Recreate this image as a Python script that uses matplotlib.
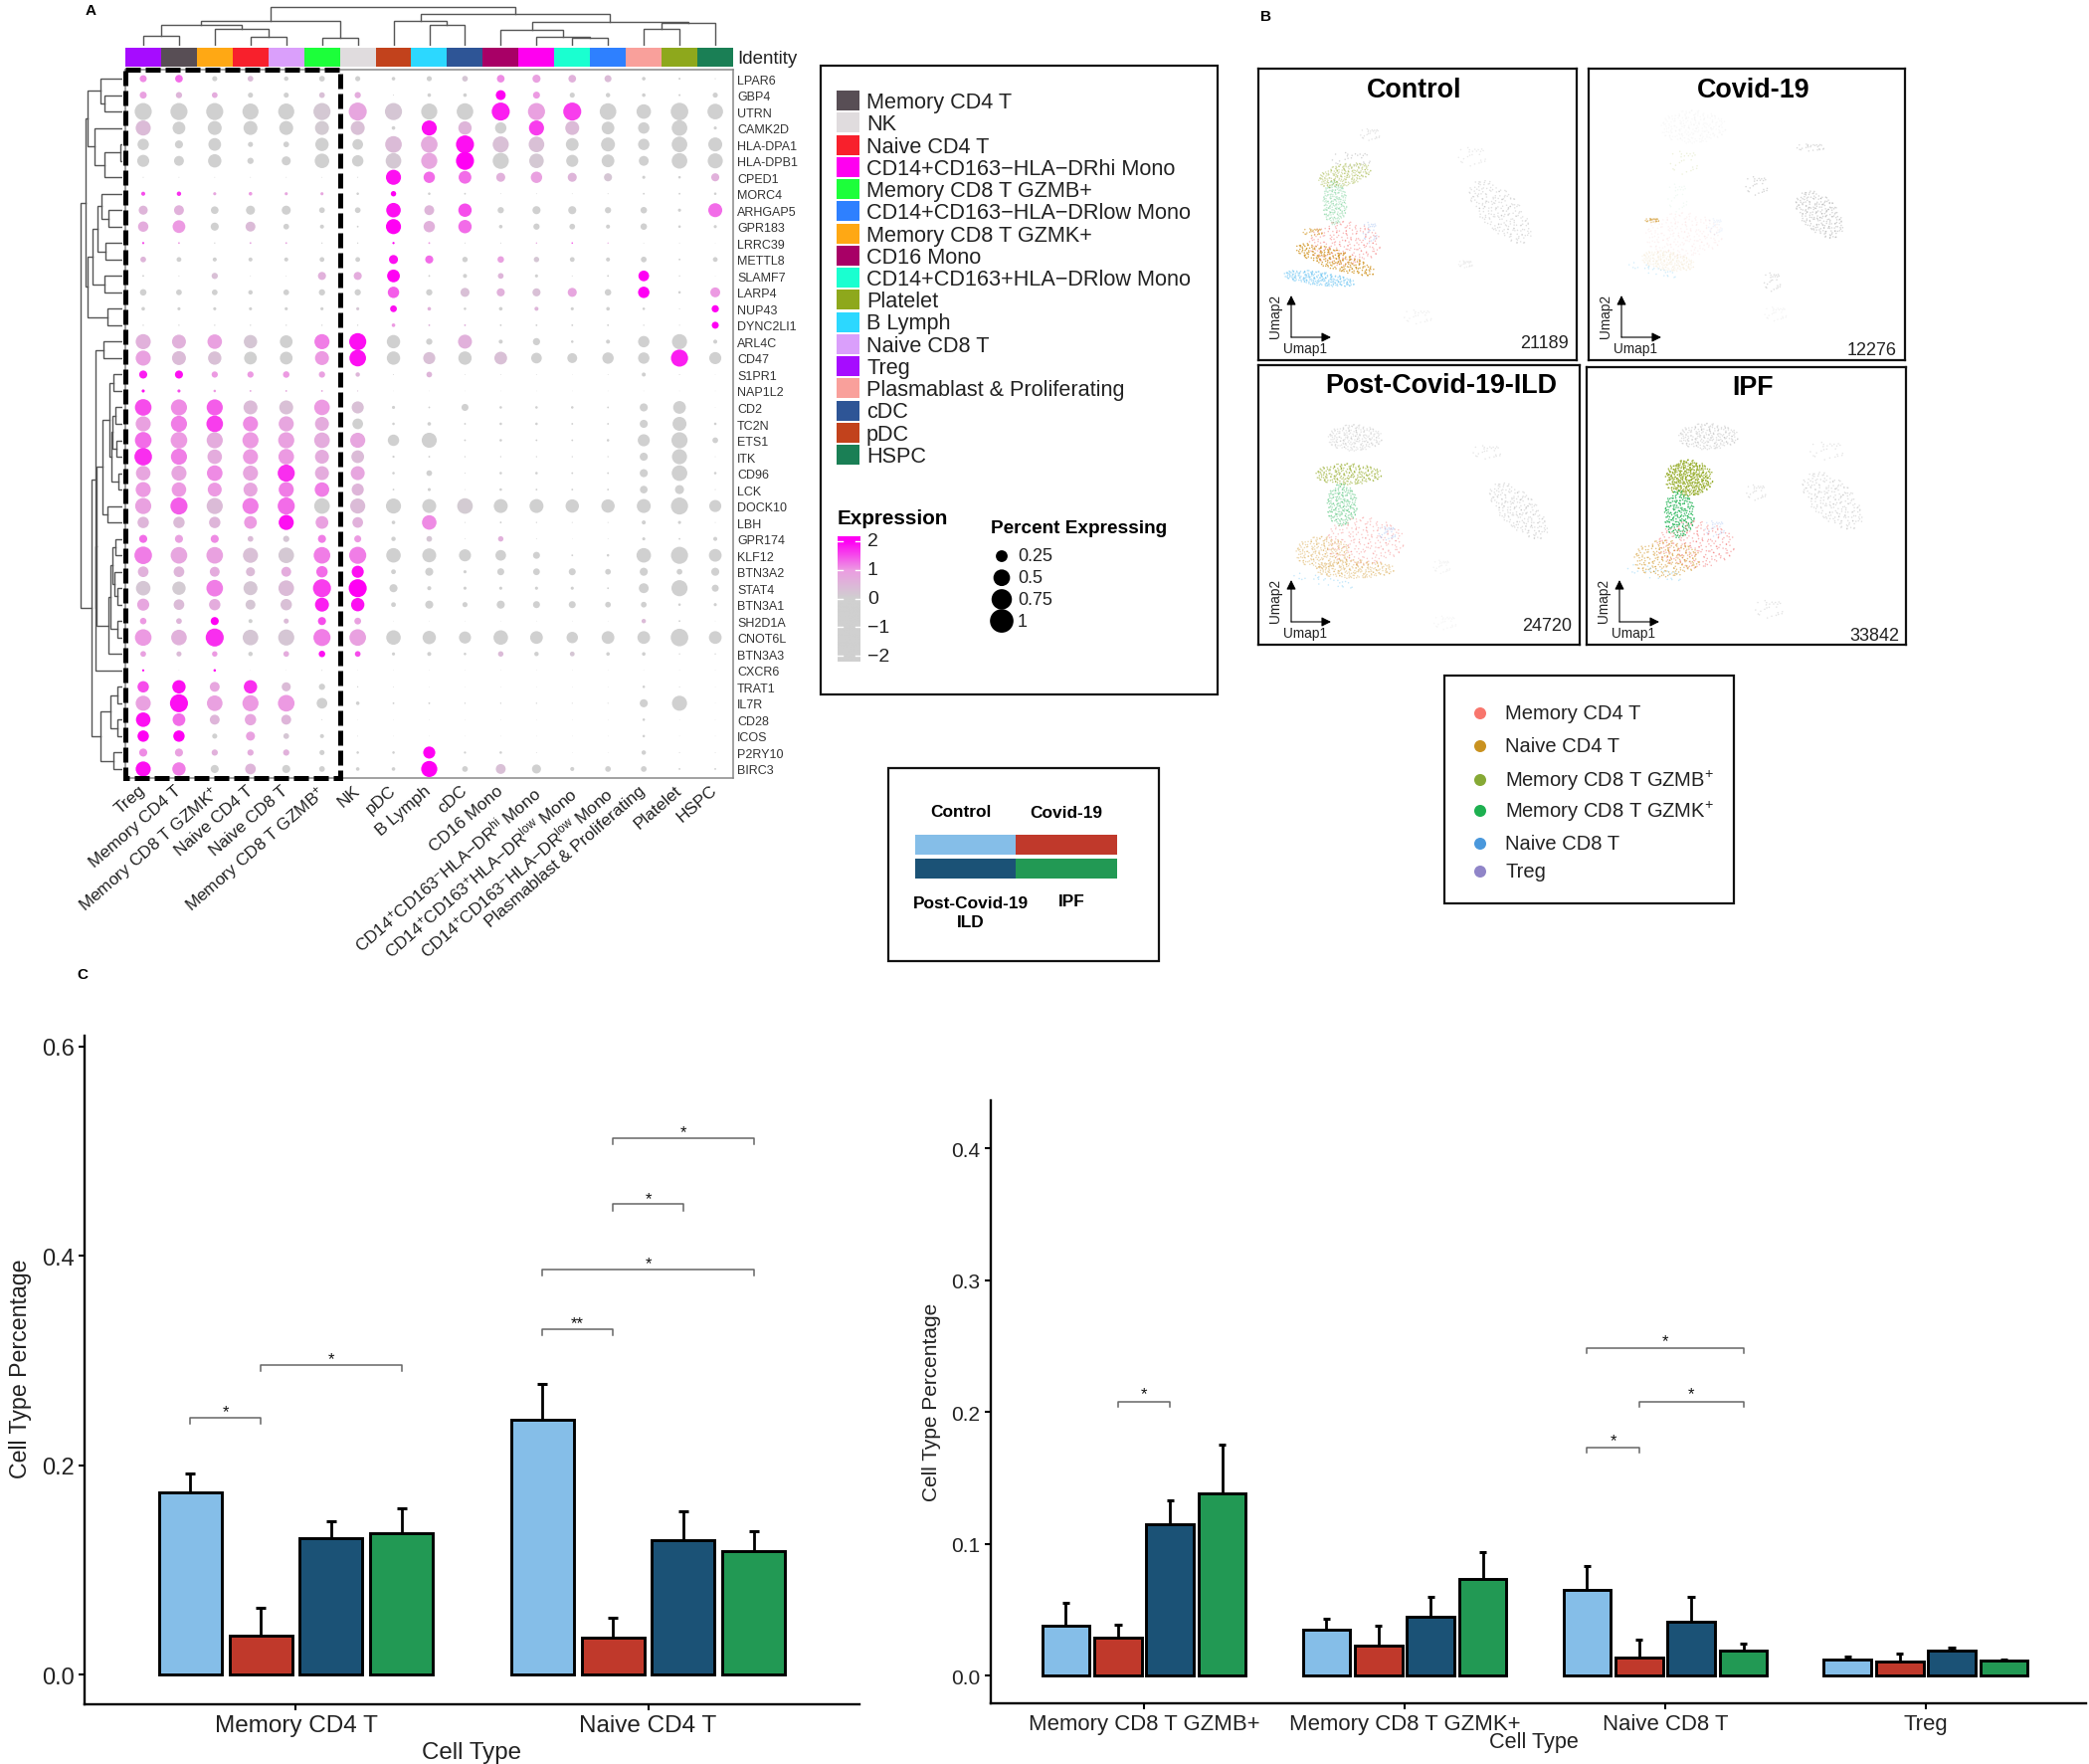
import numpy as np
import matplotlib
matplotlib.use('Agg')
import matplotlib.pyplot as plt
from matplotlib.colors import LinearSegmentedColormap
from matplotlib.patches import Rectangle
from matplotlib.transforms import ScaledTranslation

plt.rcParams['font.family'] = ['Liberation Sans', 'DejaVu Sans']
plt.rcParams['mathtext.fontset'] = 'custom'
plt.rcParams['mathtext.rm'] = 'Liberation Sans'
plt.rcParams['mathtext.default'] = 'rm'

W, H = 2100, 1774

# ---------- panel A data ----------
genes = ['LPAR6', 'GBP4', 'UTRN', 'CAMK2D', 'HLA-DPA1', 'HLA-DPB1', 'CPED1', 'MORC4', 'ARHGAP5',
         'GPR183', 'LRRC39', 'METTL8', 'SLAMF7', 'LARP4', 'NUP43', 'DYNC2LI1', 'ARL4C', 'CD47',
         'S1PR1', 'NAP1L2', 'CD2', 'TC2N', 'ETS1', 'ITK', 'CD96', 'LCK', 'DOCK10', 'LBH', 'GPR174',
         'KLF12', 'BTN3A2', 'STAT4', 'BTN3A1', 'SH2D1A', 'CNOT6L', 'BTN3A3', 'CXCR6', 'TRAT1',
         'IL7R', 'CD28', 'ICOS', 'P2RY10', 'BIRC3']
clusters = ['Treg', 'Memory CD4 T', 'Memory CD8 T GZMK$^{+}$', 'Naive CD4 T', 'Naive CD8 T',
            'Memory CD8 T GZMB$^{+}$', 'NK', 'pDC', 'B Lymph', 'cDC', 'CD16 Mono',
            'CD14$^{+}$CD163$^{-}$HLA−DR$^{hi}$ Mono', 'CD14$^{+}$CD163$^{+}$HLA−DR$^{low}$ Mono',
            'CD14$^{+}$CD163$^{-}$HLA−DR$^{low}$ Mono', 'Plasmablast & Proliferating', 'Platelet', 'HSPC']
cluster_colors = ['#A60CFF', '#584E55', '#FFA814', '#F8202C', '#DA9FFB', '#1CFF3A', '#E0DCDE', '#C2421C',
                  '#2CD8FF', '#2E5596', '#A80066', '#FF00F0', '#1AFFD0', '#2E80FF', '#F9A09B', '#8EA81C',
                  '#1A7F55']

pct = [
    [.15, .18, .08, .1, .06, .1, .08, .04, .08, .1, .18, .2, .18, .15, .04, .012, .003],
    [.15, .12, .1, .08, .08, .1, .12, .003, .04, .04, .3, .15, .08, .06, .04, .012, .08],
    [.9, .9, .9, .8, .8, .9, 1, .9, .8, .85, 1, .9, 1, .85, .65, .95, .75],
    [.7, .5, .6, .6, .6, .6, .6, .04, .7, .55, .4, .7, .6, .5, .4, .75, .03],
    [.4, .2, .5, .08, .1, .55, .35, .85, .85, 1, .8, .75, .5, .6, .4, .75, .6],
    [.45, .3, .55, .12, .25, .65, .4, .75, .8, 1, .8, .65, .45, .5, .3, .75, .7],
    [.003, .002, .002, .002, .002, .002, .003, .7, .4, .5, .25, .4, .25, .2, .03, .02, .2],
    [.05, .06, .03, .04, .03, .03, .02, .09, .02, .01, .002, .002, .002, .003, .01, .01, .02],
    [.25, .3, .18, .25, .25, .1, .1, .65, .3, .55, .12, .2, .2, .12, .13, .03, .6],
    [.33, .5, .2, .3, .1, .05, .01, .7, .4, .55, .04, .12, .1, .05, .13, .02, .03],
    [.015, .01, .005, .01, .01, .005, .005, .015, .01, .003, .003, .006, .008, .005, .002, .002, .001],
    [.1, .07, .05, .05, .05, .07, .07, .25, .2, .09, .13, .09, .07, .05, .1, .01, .07],
    [.01, .003, .12, .002, .002, .2, .2, .5, .01, .05, .1, .03, .003, .01, .35, .005, .001],
    [.13, .1, .1, .06, .1, .12, .12, .4, .12, .25, .2, .2, .25, .13, .4, .02, .3],
    [.04, .03, .03, .03, .03, .03, .03, .14, .04, .02, .04, .05, .03, .04, .02, .003, .16],
    [.005, .005, .005, .005, .005, .005, .005, .04, .01, .01, .01, .01, .01, .01, .005, .003, .15],
    [.7, .6, .65, .55, .5, .7, .9, .55, .12, .6, .05, .16, .02, .05, .4, .7, .05],
    [.7, .6, .55, .5, .5, .6, .85, .55, .45, .55, .5, .35, .3, .4, .4, .9, .45],
    [.2, .2, .12, .12, .13, .12, .06, .003, .1, .002, .002, .002, .001, .002, .05, .003, .001],
    [.03, .03, .02, .01, .01, .01, .004, .001, .001, .001, .001, .001, .001, .001, .001, .001, .001],
    [.85, .8, .8, .6, .6, .75, .45, .03, .01, .15, .02, .02, .02, .01, .2, .5, .001],
    [.7, .8, .85, .7, .7, .6, .35, .02, .04, .01, .02, .02, .01, .01, .2, .6, .02],
    [.85, .85, .8, .8, .8, .75, .7, .4, .7, .01, .02, .01, .01, .02, .45, .8, .1],
    [.95, .8, .65, .7, .75, .6, .5, .015, .01, .005, .005, .005, .005, .005, .2, .7, .002],
    [.65, .7, .75, .7, .9, .6, .6, .02, .1, .003, .02, .02, .01, .01, .2, .75, .02],
    [.7, .65, .6, .6, .7, .65, .45, .01, .03, .002, .02, .01, .01, .01, .18, .25, .003],
    [.8, .9, .8, .8, .9, .75, .7, .7, .6, .75, .6, .6, .55, .55, .6, .9, .45],
    [.4, .4, .4, .5, .7, .5, .35, .04, .65, .003, .01, .005, .003, .003, .05, .03, .002],
    [.2, .2, .2, .1, .12, .2, .15, .06, .1, .002, .09, .002, .001, .002, .03, .01, .05],
    [.95, .85, .85, .7, .75, .85, .9, .65, .6, .45, .35, .15, .01, .02, .65, .9, .5],
    [.35, .35, .3, .25, .3, .4, .45, .07, .2, .03, .15, .14, .15, .1, .2, .1, .2],
    [.65, .55, .85, .6, .75, 1, 1, .2, .05, .03, .03, .03, .03, .01, .3, .8, .15],
    [.45, .35, .4, .3, .4, .6, .55, .07, .2, .08, .2, .15, .15, .1, .1, .02, .03],
    [.13, .1, .2, .05, .08, .2, .14, .001, .001, .001, .001, .001, .001, .001, .06, .01, .001],
    [.85, .75, 1, .75, .8, .9, .85, .65, .55, .45, .65, .5, .4, .5, .5, .95, .5],
    [.1, .08, .09, .06, .1, .13, .1, .03, .05, .02, .09, .06, .07, .04, .04, .005, .005],
    [.015, .001, .02, .001, .001, .003, .001, .001, .001, .001, .001, .001, .001, .001, .001, .001, .001],
    [.4, .55, .3, .55, .25, .12, .005, .002, .001, .001, .001, .001, .001, .001, .02, .003, .001],
    [.7, 1, .75, .8, .85, .35, .04, .01, .01, .005, .005, .005, .003, .003, .2, .7, .001],
    [.65, .5, .3, .4, .3, .003, .001, .001, .001, .001, .001, .001, .001, .001, .02, .001, .001],
    [.4, .4, .08, .25, .1, .05, .002, .001, .001, .001, .001, .001, .001, .001, .02, .001, .001],
    [.2, .2, .12, .12, .12, .08, .02, .02, .45, .015, .02, .002, .001, .001, .06, .003, .002],
    [.7, .55, .2, .35, .2, .1, .04, .04, .8, .1, .3, .25, .05, .1, .1, .01, .01],
]
avg_exp = [
    [1.1, 1.3, -.5, .4, -.5, 0, -.5, -.5, -.5, .2, 1.1, .9, .6, .4, -.5, -.5, -.5],
    [.9, .5, .7, -.5, -.5, .3, .7, -.5, -.5, -.5, 2, 1, -.5, -.5, -.5, -.5, -.5],
    [-.5, -.5, -.5, -.5, -.5, .15, .8, .2, -.5, -.5, 1.8, .9, 1.6, -.5, -.5, -.5, -.5],
    [.4, -.5, -.5, -.5, -.5, .1, .3, -.5, 1.9, .5, -.5, 1.6, .4, -.5, -.5, -.5, -.5],
    [-.5, -.5, -.5, -.5, -.5, -.5, 0, .4, .7, 1.9, .3, .3, -.5, -.5, -.5, -.5, -.5],
    [-.5, -.5, -.5, -.5, -.5, -.5, -.5, .15, .8, 2, -.1, .15, -.5, -.5, -.5, -.5, -.5],
    [-.5, -.5, -.5, -.5, -.5, -.5, -.5, 1.9, 1.3, 1.3, .6, .9, .5, .2, -.5, -.5, .6],
    [1.5, 1.7, .8, 1, .8, .8, -.5, 2, -.5, -.5, -.5, -.5, -.5, -.5, -.5, -.5, -.5],
    [.5, .6, -.5, -.2, -.5, -.5, -.5, 1.9, .5, 1.5, -.5, -.5, -.5, -.5, -.5, -.5, 1.3],
    [.7, 1, -.5, .4, -.5, -.5, -.5, 2, .6, 1.3, -.5, -.5, -.5, -.5, -.5, -.5, -.5],
    [1.5, 1, -.5, .8, .8, -.5, -.5, 2, 1, -.5, -.5, .8, 1.4, .8, -.5, -.5, -.5],
    [.5, -.5, -.5, -.5, -.5, -.5, -.5, 1.9, 1.3, -.5, .9, .2, -.5, -.5, -.5, -.5, -.5],
    [-.5, -.5, .3, -.5, -.5, .6, .7, 2, -.5, -.5, .5, -.5, -.5, -.5, 2, -.5, -.5],
    [-.5, -.5, -.5, -.5, -.5, -.5, -.5, 1.4, -.5, .3, .6, .3, .8, -.5, 2, -.5, 1],
    [-.5, -.5, -.5, -.5, -.5, -.5, .2, 1.9, .6, -.5, -.5, .5, -.5, -.5, -.5, -.5, 2],
    [-.5, -.5, -.5, -.5, -.5, -.5, -.5, 1, .5, .6, -.5, -.5, -.5, -.5, -.5, -.5, 2],
    [.6, .6, .9, .2, -.2, 1.2, 1.9, -.5, -.5, .6, -.5, -.5, -.5, -.5, -.5, -.5, -.5],
    [.9, .4, .3, -.5, -.5, 1, 1.9, -.5, .3, -.5, .3, -.5, -.5, -.5, -.5, 1.8, -.5],
    [1.8, 1.9, 1, 1, 1, .9, .5, -.5, .5, -.5, -.5, -.5, -.5, -.5, -.5, -.5, -.5],
    [1.9, 1.5, 1, .8, .7, .8, .3, -.5, -.5, -.5, -.5, -.5, -.5, -.5, -.5, -.5, -.5],
    [1.5, 1.1, 1.4, .4, .3, 1, .3, -.5, -.5, -.5, -.5, -.5, -.5, -.5, -.5, -.5, -.5],
    [.9, 1.2, 1.6, 1.1, .8, .7, -.5, -.5, -.5, -.5, -.5, -.5, -.5, -.5, -.5, -.5, -.5],
    [1.3, 1, .7, 1, .9, .7, .8, -.5, -.5, -.5, -.5, -.5, -.5, -.5, -.5, -.5, -.5],
    [1.7, 1.2, .7, 1, 1, .7, .4, -.5, -.5, -.5, -.5, -.5, -.5, -.5, -.5, -.5, -.5],
    [.8, .8, 1.1, .8, 1.7, .7, .8, -.5, -.5, -.5, -.5, -.5, -.5, -.5, -.5, -.5, -.5],
    [1, 1, 1, .8, 1.2, 1.2, .5, -.5, -.5, -.5, -.5, -.5, -.5, -.5, -.5, -.5, -.5],
    [.9, 1.4, .4, 1.2, 1.3, -.5, .4, -.5, -.5, .1, -.5, -.5, -.5, -.5, -.5, -.5, -.5],
    [.5, .4, .5, 1, 1.9, .9, .6, -.5, 1.1, -.5, -.5, -.5, -.5, -.5, -.5, -.5, -.5],
    [1.3, .9, 1.1, .4, .2, 1.2, 1, -.5, .2, -.5, .6, -.5, -.5, -.5, -.5, -.5, -.5],
    [1.2, .8, .9, .3, .15, 1.2, 1.2, -.5, -.5, -.5, -.5, -.5, -.5, -.5, -.5, -.5, -.5],
    [.6, .5, .7, .4, .7, 1.3, 1.9, -.5, -.5, -.5, -.5, -.5, -.5, -.5, -.5, -.5, -.5],
    [.2, .1, 1.2, .2, .4, 1.6, 2, -.5, -.5, -.5, -.5, -.5, -.5, -.5, -.5, -.5, -.5],
    [.8, .4, .7, .2, .3, 1.8, 1.9, -.5, -.5, -.5, -.5, -.5, -.5, -.5, -.5, -.5, -.5],
    [1, .5, 2, -.5, .4, 1.5, .9, -.5, -.5, -.5, -.5, -.5, -.5, -.5, .4, -.5, -.5],
    [1, .6, 1.7, .2, .2, 1.2, .9, -.5, -.5, -.5, -.5, -.5, -.5, -.5, -.5, -.5, -.5],
    [.9, .4, 1, -.5, .7, 1.9, 1.5, -.5, -.5, -.5, .4, -.5, .2, -.5, -.5, -.5, -.5],
    [2, -.5, 2, -.5, -.5, -.5, -.5, -.5, -.5, -.5, -.5, -.5, -.5, -.5, -.5, -.5, -.5],
    [1.5, 1.9, .8, 1.7, .4, -.5, -.5, -.5, -.5, -.5, -.5, -.5, -.5, -.5, -.5, -.5, -.5],
    [.9, 1.9, .9, 1, 1, -.5, -.5, -.5, -.5, -.5, -.5, -.5, -.5, -.5, -.5, -.5, -.5],
    [1.9, 1.3, .5, .8, .5, -.5, -.5, -.5, -.5, -.5, -.5, -.5, -.5, -.5, -.5, -.5, -.5],
    [2, 2, -.5, .9, .2, -.5, -.5, -.5, -.5, -.5, -.5, -.5, -.5, -.5, -.5, -.5, -.5],
    [1.1, .9, .6, .7, .6, -.5, -.5, -.5, 2, -.5, -.5, -.5, -.5, -.5, -.5, -.5, -.5],
    [1.9, 1.2, -.5, .5, -.5, -.5, -.5, -.5, 2, -.5, .3, -.5, -.5, -.5, -.5, -.5, -.5],
]

# dendrograms: (height, left, right), ints are leaves
col_tree = (39, (25, (21, (10, 0, 1), (17, 2, (9, 3, 4))), (8, 5, 6)),
            (32.3, (25.3, 7, (21, 8, 9)),
             (23.7, (16, 10, (9, 11, (8, 12, 13))), (23, (17, 14, 15), 16))))
row_upper = (37, (35, (22, 0, (18, 1, 2)), (28, 3, (18, (2.3, 4, 5), 6))),
             (35, (30, (25, (21, 7, (14, 8, 9)), (17, 10, 11)), (18, 12, 13)), (15, 14, 15)))
row_t = (26, (20, (13, (8.7, 18, 19), (11, (10, (7.3, 20, 21), (6.3, 22, 23)), (4, 24, 25))), (15.3, 26, 27)),
         (14, (12, (10, (7, 28, 29), (8, 30, (5, 31, 32))), (5, 33, 34)), 35))
row_lower = (31, (27.5, (19, 16, 17), (27, row_t, 36)),
             (22, (12.3, (5, 37, 38), (5, 39, 40)), (9, 41, 42)))
row_tree = (42, row_upper, row_lower)

legend_order = ['Memory CD4 T', 'NK', 'Naive CD4 T', 'CD14+CD163−HLA−DRhi Mono', 'Memory CD8 T GZMB+',
                'CD14+CD163−HLA−DRlow Mono', 'Memory CD8 T GZMK+', 'CD16 Mono', 'CD14+CD163+HLA−DRlow Mono',
                'Platelet', 'B Lymph', 'Naive CD8 T', 'Treg', 'Plasmablast & Proliferating', 'cDC', 'pDC', 'HSPC']
legend_colors = ['#584E55', '#E0DCDE', '#F8202C', '#FF00F0', '#1CFF3A', '#2E80FF', '#FFA814', '#A80066', '#1AFFD0',
                 '#8EA81C', '#2CD8FF', '#DA9FFB', '#A60CFF', '#F9A09B', '#2E5596', '#C2421C', '#1A7F55']
exp_ticks = [2, 1, 0, -1, -2]
exp_tick_labels = ['2', '1', '0', '−1', '−2']
pct_levels = [0.25, 0.5, 0.75, 1]
pct_labels = ['0.25', '0.5', '0.75', '1']

# ---------- panel B data ----------
# hand placed cell positions in a unit blob, reused for each cluster outline
blob_x = [-.82, -.55, -.31, -.12, .14, .37, .58, .81, -.91, -.66, -.42, -.2, .06, .29, .52, .73, .93, -.74, -.5,
          -.27, -.04, .21, .44, .67, .86, -.6, -.36, -.15, .1, .33, .56, .78, -.47, -.23, .02, .25, .49, .69, -.33,
          -.08, .17, .4, .61, -.18, .08, .31, -.7, -.44, .47, .75, -.86, -.58, -.1, .22, .64, .9, -.38, .03, .35,
          -.63, -.25, .13, .54, .83, -.78, -.02, .42, -.52, .27, -.13, .71, -.4, .19, .6, -.29, -.68, .5, .05]
blob_y = [.12, -.33, .41, -.07, .28, -.21, .36, -.11, -.08, .48, -.52, .19, -.41, .55, .07, -.47, .16, -.31,
          .23, -.19, .62, -.58, .31, .14, .27, -.62, .66, -.35, .09, -.03, -.4, .33, .02, -.72, .38, .77, -.14,
          -.28, -.28, .84, -.2, .2, .52, .42, -.76, -.42, .06, .71, .6, -.02, -.22, .55, .11, .5, -.6, -.3, .44,
          -.12, .69, .3, .05, -.88, -.65, .45, .5, .93, -.55, -.46, .24, -.54, .6, .18, .68, .0, -.9, -.55, .45, .24]

c_red, c_org, c_blu, c_grn, c_olv, c_gry, c_tr = '#F46A6A', '#D0921E', '#58BDF2', '#22B455', '#8CA516', '#777777', '#7FA8EE'
umap_titles = ['Control', 'Covid-19', 'Post-Covid-19-ILD', 'IPF']
umap_counts = ['21189', '12276', '24720', '33842']
# u, v, half width, half height, angle, colour, alpha
umap_control = [(.27, .6, .12, .08, 0, c_red, .45), (.24, .655, .14, .035, 20, c_org, .8), (.17, .56, .035, .015, 0, c_org, .6),
                (.19, .72, .12, .025, 8, c_blu, .5), (.35, .56, .025, .045, 0, c_tr, .35), (.24, .46, .04, .08, 0, c_grn, .25),
                (.27, .365, .09, .04, -15, c_olv, .35), (.29, .31, .07, .03, 0, c_gry, .3), (.35, .225, .035, .025, 0, c_gry, .18),
                (.76, .49, .14, .065, 50, c_gry, .22), (.67, .3, .05, .04, 0, c_gry, .15), (.65, .67, .025, .015, 0, c_gry, .1),
                (.5, .85, .05, .03, 0, c_gry, .1)]
umap_covid = [(.3, .57, .13, .08, 0, c_red, .08), (.2, .52, .025, .008, 0, c_org, .5), (.25, .66, .09, .035, 10, c_org, .08),
              (.2, .69, .09, .016, 15, c_blu, .25), (.4, .54, .025, .035, 0, c_tr, .12), (.33, .2, .11, .06, 0, c_gry, .04),
              (.3, .32, .05, .05, 0, c_olv, .15), (.28, .44, .035, .06, 0, c_grn, .06), (.53, .4, .04, .04, 0, c_gry, .3),
              (.73, .5, .1, .06, 50, c_gry, .3), (.7, .27, .05, .015, 0, c_gry, .25), (.58, .73, .03, .04, 0, c_gry, .25),
              (.59, .84, .04, .03, 0, c_gry, .08)]
umap_post = [(.3, .26, .09, .05, 0, c_gry, .18), (.28, .39, .11, .04, 0, c_olv, .55), (.26, .5, .05, .08, 0, c_grn, .4),
             (.33, .63, .13, .09, 0, c_red, .35), (.2, .67, .09, .06, 0, c_org, .35), (.3, .73, .13, .035, 0, c_org, .35),
             (.2, .77, .11, .018, 12, c_blu, .35), (.4, .6, .03, .03, 0, c_tr, .35), (.81, .52, .13, .06, 50, c_gry, .22),
             (.71, .31, .05, .03, 0, c_gry, .18), (.57, .72, .03, .03, 0, c_gry, .08), (.58, .92, .04, .03, 0, c_gry, .06)]
umap_ipf = [(.38, .25, .1, .05, 0, c_gry, .22), (.32, .4, .08, .07, 0, c_olv, .85), (.32, .4, .07, .06, 40, c_olv, .7),
            (.29, .53, .05, .09, 0, c_grn, .85), (.34, .64, .13, .09, 0, c_red, .5), (.25, .69, .11, .07, 0, c_org, .55),
            (.21, .74, .1, .025, 12, c_blu, .35), (.4, .58, .035, .035, 0, c_tr, .3), (.77, .48, .13, .07, 50, c_gry, .22),
            (.75, .3, .06, .04, 0, c_gry, .18), (.53, .45, .035, .035, 0, c_gry, .2), (.57, .87, .05, .04, 0, c_gry, .2)]

cell_legend = ['Memory CD4 T', 'Naive CD4 T', 'Memory CD8 T GZMB$^{+}$', 'Memory CD8 T GZMK$^{+}$', 'Naive CD8 T', 'Treg']
cell_colors = ['#F8766D', '#C99220', '#86A935', '#1DB050', '#4A98DC', '#9085C8']

# ---------- panel C data ----------
group_colors = ['#85BEE8', '#C0392B', '#1B5276', '#229954']
cd4_types = ['Memory CD4 T', 'Naive CD4 T']
cd4_vals = [[.174, .0375, .13, .135], [.2435, .035, .1286, .1176]]
cd4_tops = [[.192, .064, .1465, .159], [.277, .0545, .156, .1364]]
# group index, bar a, bar b, height, label
cd4_sig = [(0, 0, 1, .245, '*'), (0, 1, 3, .2956, '*'), (1, 0, 1, .33, '**'), (1, 0, 3, .387, '*'),
           (1, 1, 2, .449, '*'), (1, 1, 3, .512, '*')]
cd8_types = ['Memory CD8 T GZMB+', 'Memory CD8 T GZMK+', 'Naive CD8 T', 'Treg']
cd8_vals = [[.038, .029, .115, .138], [.035, .023, .045, .0735], [.065, .014, .041, .019], [.012, .011, .019, .0115]]
cd8_tops = [[.055, .039, .133, .175], [.043, .038, .06, .094], [.083, .027, .06, .024], [.0145, .017, .021, .0125]]
cd8_sig = [(0, 1, 2, .208, '*'), (2, 0, 1, .173, '*'), (2, 1, 3, .208, '*'), (2, 0, 3, .2485, '*')]


def px_axes(left, top, right, bottom, **kw):
    return fig.add_axes([left / W, 1 - bottom / H, (right - left) / W, (bottom - top) / H], **kw)


def draw_tree(ax, node, horizontal):
    # returns leaf-axis position and height of a node
    if not isinstance(node, tuple):
        return node, 0
    h, a, b = node
    pa, ha = draw_tree(ax, a, horizontal)
    pb, hb = draw_tree(ax, b, horizontal)
    pos = [pa, pa, pb, pb]
    hts = [ha, h, h, hb]
    if horizontal:
        ax.plot(pos, hts, color='#555555', lw=1, solid_joinstyle='miter')
    else:
        ax.plot(hts, pos, color='#555555', lw=1, solid_joinstyle='miter')
    return (pa + pb) / 2, h


fig = plt.figure(figsize=(W / 100, H / 100), dpi=100)
bg = fig.add_axes([0, 0, 1, 1])
bg.set_xlim(0, W)
bg.set_ylim(H, 0)
bg.axis('off')


def box(l, t, r, b, lw=1.6):
    bg.add_patch(Rectangle((l, t), r - l, b - t, fill=False, ec='#111111', lw=lw))


bg.text(91, 11, 'A', fontsize=11, fontweight='bold', ha='center', va='center')
bg.text(1273, 17, 'B', fontsize=11, fontweight='bold', ha='center', va='center')
bg.text(83, 980, 'C', fontsize=11, fontweight='bold', ha='center', va='center')

# ---------- panel A ----------
cmap = LinearSegmentedColormap.from_list('expr', [(0, '#D0D0D0'), (.5, '#D0D0D0'), (.75, '#EC9CE2'), (1, '#FF00F4')])
ax = px_axes(126, 71, 737, 783)
ax.patch.set_alpha(0)
xx, yy = np.meshgrid(np.arange(len(clusters)), np.arange(len(genes)))
ax.scatter(xx.ravel(), yy.ravel(), s=np.array(pct).ravel() * 170, c=np.array(avg_exp).ravel(), cmap=cmap, vmin=-2, vmax=2,
           edgecolors='none', clip_on=False)
ax.set_xlim(-.5, 16.5)
ax.set_ylim(42.55, -.55)
for s in ax.spines.values():
    s.set_color('#888888')
    s.set_linewidth(1.1)
ax.set_yticks(np.arange(len(genes)))
ax.yaxis.tick_right()
ax.set_yticklabels(genes, fontsize=9, color='#333333')
ax.set_xticks(np.arange(len(clusters)))
ax.set_xticklabels(clusters, rotation=41, ha='right', rotation_mode='anchor', fontsize=12.4, color='#222222')
ax.tick_params(length=0, pad=3)
ax.tick_params(axis='x', pad=3)
shift = ScaledTranslation(-5 / 100, 0, fig.dpi_scale_trans)
for lab in ax.get_xticklabels():
    lab.set_transform(lab.get_transform() + shift)
ax.add_patch(Rectangle((-.5, -.55), 6, 43.1, fill=False, ec='black', lw=3.6, ls=(0, (3, 1)), clip_on=False, zorder=5))

id_ax = px_axes(126, 49, 737, 68)
id_ax.imshow([np.arange(len(clusters))], aspect='auto', extent=(-.5, 16.5, 0, 1),
             cmap=matplotlib.colors.ListedColormap(cluster_colors))
id_ax.axis('off')
bg.text(741, 59, 'Identity', fontsize=13.5, va='center', color='#222222')

top_ax = px_axes(126, 0, 737, 47)
top_ax.set_xlim(-.5, 16.5)
top_ax.set_ylim(0, 47)
top_ax.axis('off')
draw_tree(top_ax, col_tree, True)

left_ax = px_axes(70, 71, 123, 783)
left_ax.set_xlim(53, 0)
left_ax.set_ylim(42.55, -.55)
left_ax.axis('off')
draw_tree(left_ax, row_tree, False)

# legends of panel A
box(825, 67, 1224, 699)
for i, (name, col) in enumerate(zip(legend_order, legend_colors)):
    y = 102 + i * 22.25
    bg.add_patch(Rectangle((841, y - 10), 23, 20, fc=col, ec='none'))
    bg.text(871, y + 1.5, name, fontsize=15.6, va='center', color='#222222')

bg.text(842, 522, 'Expression', fontsize=14.9, fontweight='bold', va='center')
cb = px_axes(842, 540, 865, 666)
grad = np.linspace(2.17, -2.2, 200).reshape(-1, 1)
cb.imshow(grad, aspect='auto', cmap=cmap, vmin=-2, vmax=2, extent=(0, 1, -2.2, 2.17))
cb.axis('off')
cb.set_ylim(-2.2, 2.17)
for t, lab in zip(exp_ticks, exp_tick_labels):
    cb.plot([0, .2], [t, t], color='white', lw=1)
    cb.plot([.8, 1], [t, t], color='white', lw=1)
    cb.text(1.3, t, lab, fontsize=14, va='center', ha='left', color='#222222')

bg.text(996, 532, 'Percent Expressing', fontsize=13.7, fontweight='bold', va='center')
for i, (p, lab) in enumerate(zip(pct_levels, pct_labels)):
    y = 560 + i * 21.7
    bg.scatter([1007], [y], s=p * 290, color='black', edgecolors='none')
    bg.text(1023, y, lab, fontsize=13, va='center', color='#222222')

# ---------- panel B ----------
umap_boxes = [(1265, 70, 1585, 363), (1597, 70, 1915, 363), (1265, 368, 1588, 649), (1595, 370, 1916, 649)]
umap_tables = [umap_control, umap_covid, umap_post, umap_ipf]
title_x = [.49, .52, .57, .52]
count_pos = [(.975, .94), (.975, .965), (.975, .93), (.98, .965)]
blob = np.array([blob_x, blob_y])
for k, (bx, table) in enumerate(zip(umap_boxes, umap_tables)):
    a = px_axes(*bx)
    a.set_xlim(0, 1)
    a.set_ylim(1, 0)
    a.set_xticks([])
    a.set_yticks([])
    for s in a.spines.values():
        s.set_linewidth(1.6)
        s.set_color('#111111')
    for u, v, su, sv, ang, col, alpha in table:
        # small clusters only hold a few cells
        small = su * sv < .003
        for rot in ((0,) if small else (0, 120, 240)):
            th = np.deg2rad(rot)
            pts = blob[:, ::3] if small else blob
            bx0 = pts[0] * np.cos(th) - pts[1] * np.sin(th)
            by0 = pts[0] * np.sin(th) + pts[1] * np.cos(th)
            ca = np.deg2rad(ang)
            px = bx0 * su * np.cos(ca) - by0 * sv * np.sin(ca)
            py = bx0 * su * np.sin(ca) + by0 * sv * np.cos(ca)
            a.scatter(u + px, v + py, s=1.2, color=col, alpha=alpha, edgecolors='none')
    a.text(title_x[k], .07, umap_titles[k], fontsize=19.4, fontweight='bold', ha='center', va='center')
    a.text(count_pos[k][0], count_pos[k][1], umap_counts[k], fontsize=13, ha='right', va='center', color='#222222')
    w, h = bx[2] - bx[0], bx[3] - bx[1]
    ox, oy = 33 / w, 1 - 23 / h
    a.annotate('', xy=(ox, oy - 42 / h), xytext=(ox, oy), arrowprops=dict(arrowstyle='-|>', color='black', lw=.8, mutation_scale=14, shrinkA=0, shrinkB=0))
    a.annotate('', xy=(ox + 40 / w, oy), xytext=(ox, oy), arrowprops=dict(arrowstyle='-|>', color='black', lw=.8, mutation_scale=14, shrinkA=0, shrinkB=0))
    a.text(ox - 16 / w, oy - 22 / h, 'Umap2', rotation=90, fontsize=9.8, ha='center', va='center', color='#222222')
    a.text(ox + 14 / w, oy + 11 / h, 'Umap1', fontsize=9.8, ha='center', va='center', color='#222222')

box(1452, 680, 1743, 909)
cell_y = [718, 751, 785, 816, 849, 877]
for y, name, col in zip(cell_y, cell_legend, cell_colors):
    bg.scatter([1488], [y], s=75, color=col, edgecolors='none')
    bg.text(1513, y, name, fontsize=14.5, va='center', color='#222222')

# colour key
box(893, 773, 1165, 967)
key_ax = px_axes(919, 840, 1125, 885)
key_ax.set_xlim(0, 2)
key_ax.set_ylim(2.05, 0)
key_ax.axis('off')
for i, col in enumerate(group_colors):
    key_ax.barh(i // 2 * 1.08 + .46, .99, height=.92, left=i % 2 * .99 + .005, color=col)
bg.text(966, 817, 'Control', fontsize=12.4, fontweight='bold', ha='center', va='center')
bg.text(1072, 818, 'Covid-19', fontsize=12.4, fontweight='bold', ha='center', va='center')
bg.text(976, 918, 'Post-Covid-19\nILD', fontsize=12.4, fontweight='bold', ha='center', va='center', linespacing=1.3)
bg.text(1077, 907, 'IPF', fontsize=12.4, fontweight='bold', ha='center', va='center')


# ---------- panel C ----------
def bar_panel(rect, types, vals, tops, sig, ylim, xlim, yticks, width, tick_fs, cat_fs, star_off, tip):
    a = px_axes(*rect)
    a.patch.set_alpha(0)
    for g in range(len(types)):
        for i in range(4):
            x = g + (i - 1.5) * .2
            a.plot([x, x], [vals[g][i], tops[g][i]], color='black', lw=2, solid_capstyle='butt', zorder=1)
            a.plot([x - .014, x + .014], [tops[g][i], tops[g][i]], color='black', lw=2.2, solid_capstyle='butt', zorder=1)
            a.bar(x, vals[g][i], width=width, color=group_colors[i], edgecolor='black', linewidth=2.1, zorder=2)
    for g, i, j, h, lab in sig:
        x1, x2 = g + (i - 1.5) * .2, g + (j - 1.5) * .2
        a.plot([x1, x1, x2, x2], [h - tip, h, h, h - tip], color='#666666', lw=1.1)
        a.text((x1 + x2) / 2, h + star_off, lab, fontsize=12, ha='center', va='center', color='#111111')
    a.set_xlim(*xlim)
    a.set_ylim(*ylim)
    a.set_xticks(np.arange(len(types)))
    a.set_xticklabels(types, fontsize=cat_fs, color='#222222')
    a.set_yticks(yticks)
    a.set_yticklabels(['%.1f' % t for t in yticks], fontsize=tick_fs, color='#222222')
    a.tick_params(length=4, width=1.5, color='black')
    a.tick_params(axis='x', pad=3)
    for s in ('top', 'right'):
        a.spines[s].set_visible(False)
    for s in ('left', 'bottom'):
        a.spines[s].set_linewidth(1.7)
    return a


bar_panel((85, 1042, 864, 1714), cd4_types, cd4_vals, cd4_tops, cd4_sig, (-.0285, .61), (-.6, 1.6),
          [0, .2, .4, .6], .178, 17, 17.5, .006, .006)
bar_panel((996, 1107, 2097, 1713), cd8_types, cd8_vals, cd8_tops, cd8_sig, (-.021, .4366), (-.588, 3.615),
          [0, .1, .2, .3, .4], .182, 15, 15.9, .006, .004)
bg.text(474, 1762, 'Cell Type', fontsize=17.4, ha='center', va='center', color='#222222')
bg.text(21, 1376, 'Cell Type Percentage', fontsize=16.7, rotation=90, ha='center', va='center', color='#222222')
bg.text(1542, 1752, 'Cell Type', fontsize=15.6, ha='center', va='center', color='#222222')
bg.text(937, 1409, 'Cell Type Percentage', fontsize=15, rotation=90, ha='center', va='center', color='#222222')

fig.savefig('out.png', dpi=100)
